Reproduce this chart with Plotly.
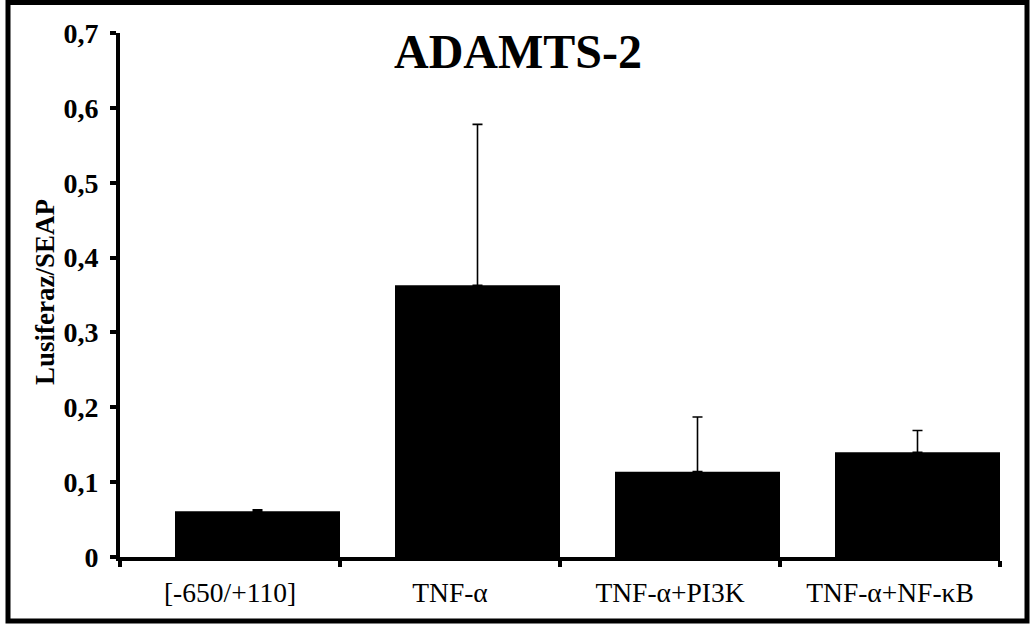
import plotly.graph_objects as go

categories = ["[-650/+110]", "TNF-α", "TNF-α+PI3K", "TNF-α+NF-κB"]
values = [0.061, 0.363, 0.114, 0.140]
errors_up = [0.002, 0.215, 0.073, 0.029]
errors_down = [0, 0, 0, 0]
ytick_vals = [0, 0.1, 0.2, 0.3, 0.4, 0.5, 0.6, 0.7]
ytick_text = ["0", "0,1", "0,2", "0,3", "0,4", "0,5", "0,6", "0,7"]
title_text = "ADAMTS-2"
ylabel_text = "Lusiferaz/SEAP"

W, H = 1030, 628
L, R, T, B = 120, 30, 33, 71
pw, ph = W - L - R, H - T - B

def px(x):
    return (x - L) / pw

def py(y):
    return (H - B - y) / ph

FONT = "Liberation Serif"

fig = go.Figure()
fig.add_trace(go.Bar(
    x=categories, y=values,
    width=0.75, offset=-0.25,
    marker=dict(color="black", line=dict(width=0)),
    error_y=dict(type="data", symmetric=False, array=errors_up,
                 arrayminus=errors_down, color="black", thickness=1.6, width=5),
    showlegend=False,
))

fig.update_layout(
    width=W, height=H,
    margin=dict(l=L, r=R, t=T, b=B, pad=0),
    paper_bgcolor="white", plot_bgcolor="white",
    font=dict(family=FONT, color="black"),
    xaxis=dict(
        type="category", tickson="boundaries",
        showline=True, linecolor="black", linewidth=4,
        ticks="outside", ticklen=6, tickwidth=4, tickcolor="black",
        tickfont=dict(family=FONT, size=27.5, color="black"),
        ticklabelstandoff=8,
        showgrid=False, zeroline=False,
    ),
    yaxis=dict(
        range=[0, 0.7], tickvals=ytick_vals, ticktext=ytick_text,
        showline=True, linecolor="black", linewidth=4,
        ticks="outside", ticklen=6, tickwidth=4, tickcolor="black",
        tickfont=dict(family=FONT, size=28, color="black", weight="bold"),
        ticklabelstandoff=6,
        showgrid=False, zeroline=False,
    ),
    shapes=[dict(type="rect", xref="paper", yref="paper",
                 x0=px(8), x1=px(1027), y0=py(621), y1=py(2.5),
                 line=dict(color="black", width=5), fillcolor="rgba(0,0,0,0)",
                 layer="above")],
    annotations=[
        dict(text=title_text, xref="paper", yref="paper", x=px(518), y=py(52),
             xanchor="center", yanchor="middle", showarrow=False,
             font=dict(family=FONT, size=48, color="black", weight="bold")),
        dict(text=ylabel_text, xref="paper", yref="paper", x=px(45), y=py(292),
             xanchor="center", yanchor="middle", showarrow=False, textangle=-90,
             font=dict(family=FONT, size=27, color="black", weight="bold")),
    ],
)

fig.write_html("out.html")
